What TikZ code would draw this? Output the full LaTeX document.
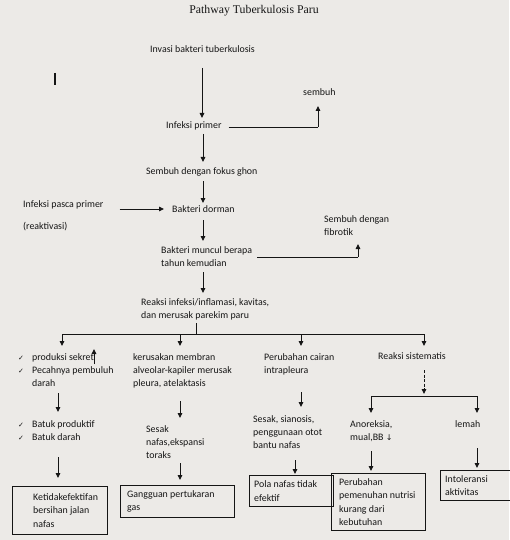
\documentclass[tikz,border=0pt]{standalone}
\usepackage{fontspec}
\setmainfont{Carlito}
\newfontfamily\titlefont{Liberation Serif}
\newfontfamily\dejavu{DejaVu Sans}
\usetikzlibrary{arrows.meta,calc}
\definecolor{bgc}{HTML}{ECEAE7}
\definecolor{ink}{HTML}{151515}
\newcommand{\ck}{\makebox[14pt][l]{{\dejavu\fontsize{7}{8}\selectfont ✓}}}
\newcommand{\ckin}{\hspace*{14pt}}
\tikzset{
  x=1pt, y=-1pt,
  txt/.style={anchor=north west, inner sep=0pt, align=left, font=\fontsize{9.9}{13.3}\selectfont, text=ink},
  arr/.style={draw=ink, line width=0.9pt, -{Triangle[length=5pt,width=4.5pt]}},
  ln/.style={draw=ink, line width=0.9pt},
  boxn/.style={draw=ink, line width=0.9pt, inner sep=0pt, anchor=north west}
}
\begin{document}
\begin{tikzpicture}
\fill[bgc] (0,0) rectangle (509,540);
\useasboundingbox (0,0) rectangle (509,540);

% title
\node[inner sep=0pt, text=ink, font=\titlefont\fontsize{11.8}{13}\selectfont] (title) at (254,11) {Pathway Tuberkulosis Paru};
% stray bar
\draw[ink, line width=2pt] (54.5,73) -- (54.5,85);

% top chain
\node[txt] (invasi) at (150,45) {Invasi bakteri tuberkulosis};
\node[txt] (sembuh) at (303,88) {sembuh};
\node[txt] (primer) at (166,121) {Infeksi primer};
\node[txt] (ghon) at (146,167) {Sembuh dengan fokus ghon};
\node[txt] (dorman) at (172,205) {Bakteri dorman};
\node[txt] (pasca) at (23,200) {Infeksi pasca primer};
\node[txt] (reakt) at (23,222) {(reaktivasi)};
\node[txt] (muncul) at (161,246) {Bakteri muncul berapa\\tahun kemudian};
\node[txt] (fibrotik) at (324,215) {Sembuh dengan\\fibrotik};
\node[txt] (reaksi) at (141,298) {Reaksi infeksi/inflamasi, kavitas,\\dan merusak parekim paru};

% branch row
\node[txt] (sekret) at (18,353) {\ck produksi sekret\\\ck Pecahnya pembuluh\\\ckin darah};
\node[txt] (kerusakan) at (133,353) {kerusakan membran\\alveolar-kapiler merusak\\pleura, atelaktasis};
\node[txt] (cairan) at (264,353) {Perubahan cairan\\intrapleura};
\node[txt] (sistem) at (378,352) {Reaksi sistematis};

% symptom row
\node[txt] (batuk) at (18,420) {\ck Batuk produktif\\\ck Batuk darah};
\node[txt] (sesak1) at (146,425) {Sesak\\nafas,ekspansi\\toraks};
\node[txt] (sesak2) at (253,415) {Sesak, sianosis,\\penggunaan otot\\bantu nafas};
\node[txt] (anor) at (350,420) {Anoreksia,\\mual,BB {\dejavu\fontsize{8}{10}\selectfont ↓}};
\node[txt] (lemah) at (455,420) {lemah};

% diagnosis boxes
\node[boxn, minimum width=95pt, minimum height=48pt] (b1) at (12,486) {};
\node[txt, anchor=west] (t1) at ([xshift=21pt]b1.west) {Ketidakefektifan\\bersihan jalan\\nafas};
\node[boxn, minimum width=114pt, minimum height=32pt] (b2) at (120,485) {};
\node[txt, anchor=west] (t2) at ([xshift=7pt]b2.west) {Gangguan pertukaran\\gas};
\node[boxn, minimum width=84pt, minimum height=31pt] (b3) at (249,475) {};
\node[txt, anchor=west] (t3) at ([xshift=5pt]b3.west) {Pola nafas tidak\\efektif};
\node[boxn, minimum width=94pt, minimum height=57pt] (b4) at (331,473) {};
\node[txt, anchor=west] (t4) at ([xshift=8pt]b4.west) {Perubahan\\pemenuhan nutrisi\\kurang dari\\kebutuhan};
\node[boxn, minimum width=80pt, minimum height=30pt] (b5) at (440,470) {};
\node[txt, anchor=west] (t5) at ([xshift=5pt]b5.west) {Intoleransi\\aktivitas};

% junction coordinates
\coordinate (jsembuh) at (318,127);
\coordinate (jfib) at (358,257);
\coordinate (bus) at (196,334);

% top chain connectors
\draw[arr] (202,68) -- (202,118);
\draw[ln] ([xshift=7pt]primer.east |- jsembuh) -- (jsembuh);
\draw[arr] (jsembuh) -- (jsembuh |- 0,106);
\draw[arr] (203,134) -- (203,162);
\draw[arr] (203,181) -- (203,203);
\draw[arr] ([xshift=16pt]pasca.east |- 0,209) -- (164,209);
\draw[arr] (203,220) -- (203,241);
\draw[ln] (257,257) -- (jfib);
\draw[arr] (jfib) -- (358,244);
\draw[arr] (203,272) -- (203,293);

% main bus
\draw[ln] (196,323) -- (bus);
\draw[ln] (62,334) -- (424,334);
\draw[arr] (62,334) -- (62,346);
\draw[arr] (180,334) -- (180,346);
\draw[arr] (301,334) -- (301,346);
\draw[arr] (424,334) -- (424,346);
% stray up arrow
\draw[arr] (94,364) -- (94,349);

% column connectors
\draw[arr] (58,393) -- (58,412);
\draw[arr] (58,457) -- (58,478);
\draw[arr] (180,401) -- (180,418);
\draw[arr] (180,463) -- (180,480);
\draw[arr] (301,392) -- (301,407);
\draw[arr] (295,460) -- (295,474);
\draw[arr, dash pattern=on 3pt off 1.5pt] (424,370) -- (424,394);
\draw[ln] (371,396) -- (477,396);
\draw[arr] (371,396) -- (371,413);
\draw[arr] (477,396) -- (477,413);
\draw[arr] (371,451) -- (371,471);
\draw[arr] (477,448) -- (477,468);
\end{tikzpicture}
\end{document}
